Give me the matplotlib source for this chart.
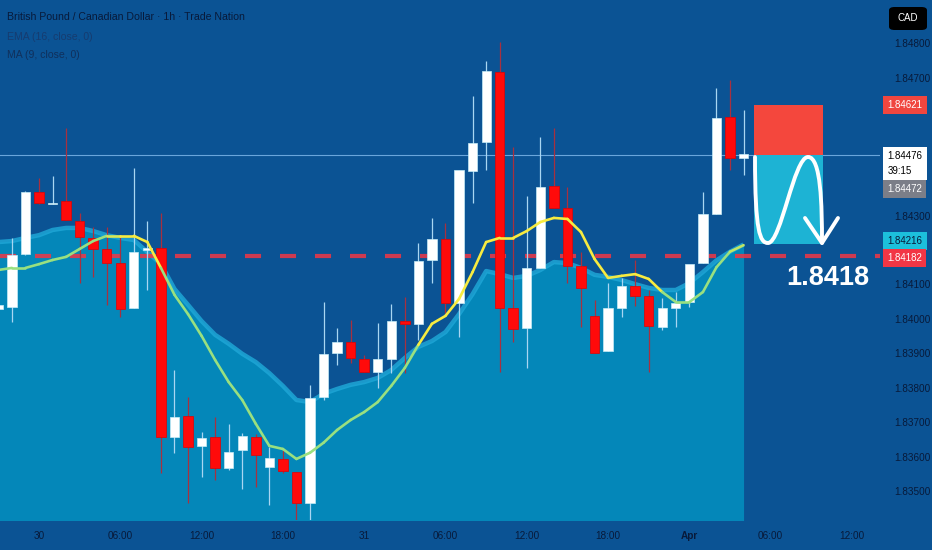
import numpy as np
import matplotlib
matplotlib.use("Agg")
import matplotlib.pyplot as plt
from matplotlib.collections import LineCollection
from matplotlib.patches import Rectangle, PathPatch, FancyBboxPatch
from matplotlib.path import Path

plt.rcParams["font.family"] = ["Liberation Sans", "DejaVu Sans"]

# hourly candles, hour 0 = 30 Mar 00:00
hours = list(range(-3, 53))
opens = [1.84029, 1.84035, 1.84188, 1.84368, 1.84333, 1.84342, 1.84284, 1.84235,
         1.84203, 1.84162, 1.84032, 1.84200, 1.84206, 1.83658, 1.83719, 1.83632,
         1.83658, 1.83568, 1.83620, 1.83658, 1.83571, 1.83594, 1.83557, 1.83467,
         1.83774, 1.83901, 1.83933, 1.83884, 1.83846, 1.83884, 1.83994, 1.83986,
         1.84171, 1.84232, 1.84046, 1.84429, 1.84513, 1.84716, 1.84032, 1.83974,
         1.84148, 1.84386, 1.84322, 1.84154, 1.84009, 1.83907, 1.84032, 1.84096,
         1.84067, 1.83977, 1.84032, 1.84049, 1.84162, 1.84304, 1.84586, 1.84467]
highs = [1.84055, 1.84235, 1.84371, 1.84409, 1.84415, 1.84554, 1.84307, 1.84267,
         1.84267, 1.84243, 1.84438, 1.84284, 1.84307, 1.83852, 1.83774, 1.83672,
         1.83716, 1.83696, 1.83670, 1.83667, 1.83629, 1.83620, 1.83557, 1.83809,
         1.84049, 1.83974, 1.83997, 1.83896, 1.83988, 1.84043, 1.84064, 1.84220,
         1.84293, 1.84278, 1.84426, 1.84646, 1.84748, 1.84803, 1.84499, 1.84357,
         1.84528, 1.84554, 1.84383, 1.84194, 1.84055, 1.84104, 1.84119, 1.84171,
         1.84084, 1.84061, 1.84078, 1.84049, 1.84368, 1.84670, 1.84693, 1.84606]
lows = [1.84020, 1.83991, 1.84186, 1.84333, 1.84333, 1.84287, 1.84104, 1.84122,
        1.84041, 1.84006, 1.84032, 1.84084, 1.83554, 1.83612, 1.83467, 1.83542,
        1.83533, 1.83562, 1.83507, 1.83513, 1.83461, 1.83554, 1.83417, 1.83417,
        1.83765, 1.83867, 1.83872, 1.83846, 1.83800, 1.83843, 1.83843, 1.83939,
        1.84104, 1.84017, 1.83948, 1.84336, 1.84432, 1.83846, 1.83933, 1.83858,
        1.84148, 1.84322, 1.84104, 1.83977, 1.83901, 1.83907, 1.84006, 1.84038,
        1.83846, 1.83968, 1.83977, 1.84035, 1.84162, 1.84304, 1.84432, 1.84417]
closes = [1.84041, 1.84186, 1.84368, 1.84336, 1.84336, 1.84287, 1.84238, 1.84203,
          1.84162, 1.84029, 1.84194, 1.84206, 1.83658, 1.83716, 1.83629, 1.83655,
          1.83568, 1.83614, 1.83661, 1.83606, 1.83597, 1.83559, 1.83467, 1.83771,
          1.83899, 1.83933, 1.83887, 1.83846, 1.83884, 1.83994, 1.83986, 1.84168,
          1.84232, 1.84046, 1.84432, 1.84510, 1.84719, 1.84032, 1.83971, 1.84148,
          1.84383, 1.84322, 1.84154, 1.84090, 1.83901, 1.84032, 1.84096, 1.84067,
          1.83980, 1.84032, 1.84046, 1.84159, 1.84304, 1.84583, 1.84467, 1.84478]
ema16 = [1.84223, 1.84226, 1.84235, 1.84243, 1.84258, 1.84264, 1.84264, 1.84255,
         1.84243, 1.84235, 1.84229, 1.84194, 1.84159, 1.84087, 1.84041, 1.83994,
         1.83954, 1.83928, 1.83899, 1.83875, 1.83843, 1.83806, 1.83765, 1.83759,
         1.83783, 1.83797, 1.83809, 1.83817, 1.83829, 1.83852, 1.83887, 1.83919,
         1.83936, 1.83962, 1.84014, 1.84072, 1.84139, 1.84130, 1.84119, 1.84125,
         1.84142, 1.84165, 1.84162, 1.84148, 1.84128, 1.84122, 1.84113, 1.84101,
         1.84090, 1.84084, 1.84084, 1.84104, 1.84136, 1.84170, 1.84195, 1.84216]
ma9 = [1.84142, 1.84148, 1.84148, 1.84159, 1.84171, 1.84180, 1.84203, 1.84226,
       1.84241, 1.84241, 1.84241, 1.84223, 1.84148, 1.84070, 1.84014, 1.83951,
       1.83881, 1.83817, 1.83765, 1.83696, 1.83632, 1.83623, 1.83594, 1.83612,
       1.83641, 1.83678, 1.83707, 1.83730, 1.83759, 1.83806, 1.83858, 1.83925,
       1.83986, 1.84009, 1.84058, 1.84136, 1.84223, 1.84235, 1.84235, 1.84255,
       1.84281, 1.84293, 1.84290, 1.84252, 1.84174, 1.84119, 1.84125, 1.84130,
       1.84116, 1.84078, 1.84049, 1.84049, 1.84078, 1.84150, 1.84195, 1.84214]

time_ticks = [0, 6, 12, 18, 24, 30, 36, 42, 48, 54, 60]
time_labels = ["30", "06:00", "12:00", "18:00", "31", "06:00", "12:00", "18:00", "Apr", "06:00", "12:00"]
# scale labels not hidden behind the price tags
price_ticks = [1.835, 1.836, 1.837, 1.838, 1.839, 1.840, 1.841, 1.843, 1.847, 1.848]

last_price = 1.84476
bid_price = 1.84472
level = 1.84182
stop_price = 1.84621
target_price = 1.84216
countdown = "39:15"
trade_start, trade_end = 52.8, 57.85

BG = "#0b5394"
AREA = "#0487b9"
BAND = "#1ea6d6"
NAVY = "#081a3a"

fig = plt.figure(figsize=(9.32, 5.5), dpi=100, facecolor=BG)
ax = fig.add_axes([0, 30 / 550, 880 / 932, 520 / 550])
ax.set_facecolor(BG)
ax.set_xlim(-2.878, 62.07)
ax.set_ylim(1.83417, 1.84925)
for s in ax.spines.values():
    s.set_visible(False)

x = np.array(hours, dtype=float)
o, h, l, c = map(np.array, (opens, highs, lows, closes))
ema = np.array(ema16)
ma = np.array(ma9)

# EMA area
ax.fill_between(x, ema, 1.83, color=AREA, lw=0, zorder=1)
ax.plot(x, ema, color=BAND, lw=3.2, alpha=0.85, zorder=1.5, solid_capstyle="butt")

# horizontal levels
ax.axhline(level, color="#f23645", lw=3, ls=(0, (3.85, 4.55)), alpha=0.85, zorder=2)
ax.axhline(last_price, color="#6aa6dc", lw=0.8, zorder=2)

# candles
up = c >= o
bottom = np.minimum(o, c)
height = np.maximum(np.abs(c - o), 0.00003)
ax.vlines(x[up], l[up], h[up], color="#a9d6f2", lw=0.9, zorder=3)
ax.vlines(x[~up], l[~up], h[~up], color="#a8303f", lw=0.9, zorder=3)
ax.bar(x[up], height[up], bottom=bottom[up], width=0.68, color="white",
       edgecolor="#c6ecf7", linewidth=0.5, zorder=4)
ax.bar(x[~up], height[~up], bottom=bottom[~up], width=0.7, color="#ff0a0a",
       edgecolor="#e40000", linewidth=0.5, zorder=4)

# MA line: yellow above EMA, green below
pts = np.column_stack([x, ma])
segs = np.stack([pts[:-1], pts[1:]], axis=1)
diff = (ma[:-1] + ma[1:]) / 2 - (ema[:-1] + ema[1:]) / 2
t = np.clip(0.5 + diff / 0.00012, 0, 1)[:, None]
green = np.array([0.60, 0.88, 0.50])
yellow = np.array([0.97, 0.92, 0.25])
cols = green * (1 - t) + yellow * t
ax.add_collection(LineCollection(segs, colors=cols, linewidths=1.9, zorder=5, capstyle="round"))

# position boxes
ax.add_patch(Rectangle((trade_start, last_price), trade_end - trade_start,
                       stop_price - last_price, fc="#f4473d", ec="none", zorder=4))
ax.add_patch(Rectangle((trade_start, target_price), trade_end - trade_start,
                       last_price - target_price, fc="#1db3d4", ec="none", zorder=4))


def px(xp, yp):
    return (xp / 880, 1 - yp / 520)


verts = [px(755, 157), px(755, 232), px(760, 243), px(768, 243),
         px(781, 243), px(794, 157), px(808, 157),
         px(821, 157), px(822, 205), px(822, 243)]
codes = [Path.MOVETO] + [Path.CURVE4] * 9
ax.add_patch(PathPatch(Path(verts, codes), fc="none", ec="white", lw=2.8,
                       transform=ax.transAxes, zorder=6, capstyle="round"))
head = [px(805, 218), px(822, 243), px(838, 218)]
ax.add_patch(PathPatch(Path(head, [Path.MOVETO, Path.LINETO, Path.LINETO]), fc="none",
                       ec="white", lw=2.8, transform=ax.transAxes, zorder=6,
                       capstyle="round", joinstyle="round"))

ax.text(828 / 880, 1 - 278 / 520, f"{level:.4f}", transform=ax.transAxes, ha="center",
        va="center", color="white", fontsize=19.5, fontweight="bold", zorder=7)

# axes ticks
ax.yaxis.tick_right()
ax.set_yticks(price_ticks, [f"{p:.5f}" for p in price_ticks])
ax.tick_params(axis="y", length=0, pad=10, labelsize=7.2, labelcolor=NAVY)
ax.set_xticks(time_ticks, time_labels)
ax.tick_params(axis="x", length=0, pad=8, labelsize=7.2, labelcolor=NAVY)
for lab in ax.get_xticklabels():
    if lab.get_text() == "Apr":
        lab.set_fontweight("bold")

# price tags on the scale
tr = ax.get_yaxis_transform()


def tag(yv, text, fc, tc):
    ax.text(1.0085, yv, text, transform=tr, ha="left", va="center", fontsize=7,
            color=tc, zorder=8, clip_on=False, linespacing=1.6,
            bbox=dict(boxstyle="square,pad=0.42", fc=fc, ec="none"))


tag(stop_price, f"{stop_price:.5f}", "#f0463f", "white")
tag(1.84452, f"{last_price:.5f}\n{countdown}", "white", "black")
tag(1.84376, f"{bid_price:.5f}", "#7b7e88", "white")
tag(1.84227, f"{target_price:.5f}", "#1cc0dc", NAVY)
tag(1.84177, f"{level:.5f}", "#f23645", "white")

# currency badge
fig.patches.append(FancyBboxPatch((889 / 932, 1 - 30 / 550), 38 / 932, 23 / 550,
                                  boxstyle="round,pad=0,rounding_size=0.006",
                                  fc="black", ec="none", transform=fig.transFigure))
fig.text(908 / 932, 1 - 18 / 550, "CAD", color="white", fontsize=7, ha="center", va="center")

# legend texts
fig.text(7 / 932, 1 - 17 / 550, "British Pound / Canadian Dollar \u00b7 1h \u00b7 Trade Nation",
         color=NAVY, fontsize=7.6, ha="left", va="center")
fig.text(7 / 932, 1 - 37 / 550, "EMA (16, close, 0)", color="#163c70", fontsize=7.6,
         ha="left", va="center")
fig.text(7 / 932, 1 - 55 / 550, "MA (9, close, 0)", color="#10305c", fontsize=7.6,
         ha="left", va="center")

fig.savefig("out.png", dpi=100, facecolor=BG)
